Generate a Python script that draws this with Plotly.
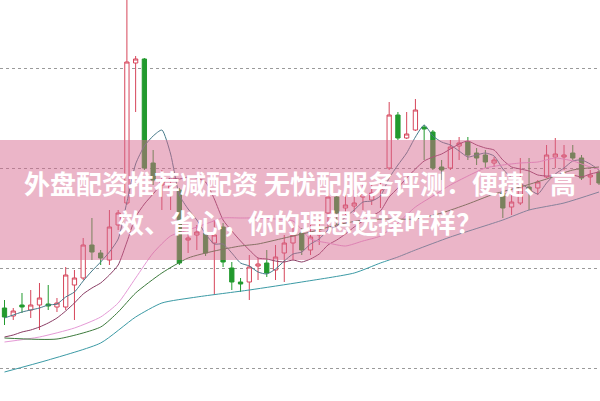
import plotly.graph_objects as go

idx = list(range(69))
opens = [10.60,10.52,10.63,10.58,10.63,10.64,10.61,10.61,10.83,10.90,11.23,11.15,11.08,11.43,11.65,13.05,13.09,12.05,11.83,11.78,
         11.78,11.28,11.33,11.35,11.25,11.41,11.00,10.86,10.86,11.02,11.05,10.98,11.15,11.25,11.35,11.18,11.33,11.55,11.71,11.60,
         11.62,11.71,11.68,11.78,12.00,12.53,12.30,12.38,12.41,12.36,12.01,12.00,12.22,12.26,12.15,12.13,12.05,11.75,11.61,11.65,
         11.81,11.80,11.91,12.11,12.11,12.15,12.10,11.91,11.96]
highs = [10.68,10.60,10.75,10.78,10.85,10.83,10.70,11.01,10.98,11.30,11.50,11.18,11.58,11.58,13.75,13.12,13.10,12.18,11.98,11.88,
         11.80,11.36,11.43,11.38,11.48,11.45,11.06,10.90,11.13,11.10,11.18,11.23,11.33,11.43,11.40,11.43,11.48,11.73,11.73,11.73,
         11.78,11.85,11.85,11.88,12.66,12.56,12.56,12.69,12.43,12.38,12.08,12.28,12.31,12.31,12.20,12.18,12.11,11.76,11.73,12.10,
         12.10,11.88,12.23,12.30,12.23,12.23,12.13,11.98,11.98]
lows = [10.43,10.48,10.55,10.50,10.38,10.58,10.56,10.58,10.48,10.88,11.08,11.03,11.03,11.38,11.63,12.56,11.98,11.83,11.58,11.58,
        11.03,11.15,11.18,11.12,10.73,11.01,10.78,10.76,10.68,10.88,10.91,10.88,10.86,11.08,11.13,11.13,11.23,11.36,11.43,11.53,
        11.53,11.58,11.63,11.60,11.98,12.28,12.29,12.37,12.08,11.98,11.88,11.98,12.08,12.08,12.03,12.00,12.01,11.50,11.53,11.63,
        11.58,11.73,11.90,12.00,11.98,12.08,11.88,11.83,11.83]
closes = [10.51,10.57,10.61,10.63,10.70,10.62,10.65,10.93,10.90,11.23,11.16,11.10,11.41,11.55,13.06,13.09,12.00,11.88,11.88,11.83,
          11.05,11.30,11.36,11.15,11.33,11.06,10.86,10.84,11.01,11.04,10.95,11.11,11.25,11.33,11.18,11.31,11.36,11.71,11.55,11.63,
          11.65,11.75,11.75,11.81,12.53,12.30,12.34,12.58,12.39,12.00,11.98,12.21,12.25,12.13,12.10,12.06,12.08,11.60,11.66,11.83,
          11.76,11.86,12.13,12.14,12.13,12.10,11.90,11.93,11.85]

ma5 = [10.50,10.53,10.56,10.58,10.60,10.63,10.64,10.71,10.76,10.87,10.97,11.06,11.16,11.29,11.66,12.04,12.22,12.32,12.38,12.14,
       11.73,11.59,11.48,11.34,11.24,11.24,11.15,11.05,11.02,10.96,10.94,10.99,11.07,11.14,11.16,11.24,11.29,11.38,11.42,11.51,
       11.58,11.66,11.67,11.72,11.90,12.03,12.15,12.31,12.43,12.32,12.26,12.23,12.17,12.11,12.13,12.15,12.12,11.99,11.90,11.85,
       11.79,11.74,11.85,11.94,12.00,12.07,12.08,12.04,11.98]
ma10 = [10.31,10.33,10.36,10.38,10.41,10.45,10.50,10.57,10.65,10.74,10.80,10.85,10.93,11.03,11.26,11.51,11.64,11.74,11.84,11.90,
        11.89,11.91,11.90,11.86,11.69,11.48,11.37,11.27,11.18,11.10,11.09,11.07,11.06,11.08,11.06,11.09,11.14,11.23,11.28,11.34,
        11.41,11.47,11.52,11.57,11.71,11.80,11.90,11.99,12.07,12.11,12.14,12.19,12.24,12.27,12.23,12.20,12.18,12.08,12.01,11.99,
        11.97,11.93,11.92,11.92,11.93,11.93,11.91,11.94,11.96]
ma20_x = [0,4,8,11,13,15,17,19,21,23,25,27,29,31,33,35,37,39,41,43,45,47,49,51,53,55,57,59,61,63,65,67,68]
ma20 = [10.26,10.31,10.40,10.51,10.65,10.90,11.15,11.32,11.38,11.44,11.50,11.50,11.50,11.49,11.47,11.29,11.25,11.22,11.27,11.32,
        11.45,11.61,11.72,11.83,11.92,12.00,12.03,12.05,12.06,12.10,12.07,12.01,11.99]
ma30_x = [0,6,11,13,15,18,21,24,27,29,32,35,38,41,44,47,50,53,56,59,62,65,68]
ma30 = [10.30,10.29,10.41,10.56,10.75,10.95,11.10,11.17,11.22,11.24,11.30,11.36,11.43,11.48,11.49,11.49,11.55,11.64,11.74,11.81,
        11.89,11.98,12.01]
ma60_x = [0,5,11,15,18,22,28,34,40,43,45,47,51,57,60,64,68]
ma60 = [9.96,10.08,10.25,10.51,10.65,10.71,10.78,10.86,10.95,11.05,11.11,11.18,11.31,11.48,11.58,11.65,11.76]

title_line1 = "外盘配资推荐减配资 无忧配服务评测：便捷、高"
title_line2 = "效、省心，你的理想选择咋样？"

fig = go.Figure()
fig.add_trace(go.Candlestick(
    x=idx, open=opens, high=highs, low=lows, close=closes,
    increasing=dict(line=dict(color="#d6455a", width=1), fillcolor="#ffffff"),
    decreasing=dict(line=dict(color="#229a2e", width=1), fillcolor="#229a2e"),
    whiskerwidth=0, showlegend=False, hoverinfo="skip"))

line_specs = [
    (idx, ma5, "#467a8a"),
    (idx, ma10, "#8a3c64"),
    (ma20_x, ma20, "#e59ad6"),
    (ma30_x, ma30, "#3c7a3c"),
    (ma60_x, ma60, "#3b9aa5"),
]
for xs, ys, col in line_specs:
    fig.add_trace(go.Scatter(x=xs, y=ys, mode="lines", line=dict(color=col, width=1, shape="spline", smoothing=0.6),
                             showlegend=False, hoverinfo="skip"))

fig.add_shape(type="rect", xref="paper", yref="paper", x0=0, x1=1, y0=(401-260)/401, y1=(401-140)/401,
              fillcolor="rgba(214,104,143,0.49)", line=dict(width=0), layer="above")

for txt, yc in [(title_line1, (401-182)/401), (title_line2, (401-221)/401)]:
    fig.add_annotation(text=txt, xref="paper", yref="paper", x=0.5, y=yc, xanchor="center", yanchor="middle",
                       showarrow=False, font=dict(family="Noto Sans CJK SC", size=26, color="#ffffff", weight="bold"))

fig.update_layout(
    width=600, height=401, margin=dict(l=0, r=0, t=0, b=0),
    paper_bgcolor="#ffffff", plot_bgcolor="#ffffff",
    xaxis=dict(range=[-0.515, 68.114], showgrid=False, zeroline=False, showticklabels=False,
               rangeslider=dict(visible=False), showline=False, ticks=""),
    yaxis=dict(range=[9.67, 13.68], dtick=1, tick0=10, showgrid=True, gridcolor="#9a9a9a", griddash="dot",
               gridwidth=1, zeroline=False, showticklabels=False, showline=False, ticks=""),
)

fig.write_html("out.html", config={"displayModeBar": False},
               post_script="document.body.style.margin='0';document.body.style.overflow='hidden';")
